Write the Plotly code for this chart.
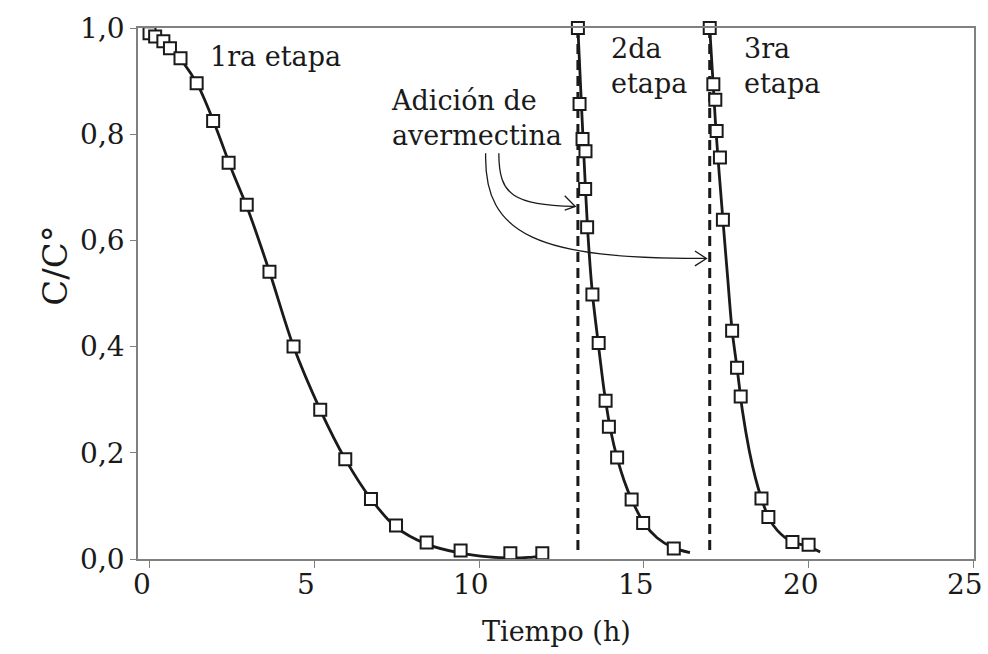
import plotly.graph_objects as go

# Measured concentration ratio C/C° for the three degradation stages
t1 = [0.0, 0.17, 0.42, 0.62, 0.94, 1.43, 1.93, 2.40, 2.95, 3.64, 4.37, 5.18,
      5.94, 6.72, 7.48, 8.41, 9.44, 10.95, 11.92]
c1 = [0.990, 0.984, 0.975, 0.962, 0.943, 0.896, 0.825, 0.746, 0.667, 0.541,
      0.400, 0.281, 0.188, 0.113, 0.063, 0.031, 0.016, 0.011, 0.011]

t2 = [13.0, 13.05, 13.14, 13.23, 13.22, 13.28, 13.44, 13.63, 13.84, 13.94,
      14.19, 14.63, 14.98, 15.91]
c2 = [1.0, 0.857, 0.791, 0.768, 0.697, 0.625, 0.498, 0.407, 0.298, 0.249,
      0.191, 0.112, 0.068, 0.020]

t3 = [17.0, 17.11, 17.17, 17.21, 17.31, 17.40, 17.68, 17.83, 17.94, 18.57,
      18.78, 19.51, 20.0]
c3 = [1.0, 0.894, 0.865, 0.806, 0.756, 0.639, 0.430, 0.360, 0.306, 0.114,
      0.079, 0.032, 0.027]

# Fitted decay curves
t1_fit = [0.0, 0.5, 1.0, 1.5, 2.0, 2.5, 3.0, 3.64, 4.37, 5.18, 5.94, 6.72,
          7.48, 8.41, 9.44, 10.3, 11.0, 11.5, 12.0]
c1_fit = [0.995, 0.972, 0.937, 0.888, 0.815, 0.732, 0.656, 0.541, 0.400,
          0.281, 0.188, 0.113, 0.060, 0.028, 0.011, 0.004, 0.002, 0.003, 0.006]

t2_fit = [13.0, 13.1, 13.2, 13.3, 13.44, 13.6, 13.8, 14.0, 14.2, 14.4, 14.63,
          15.0, 15.4, 15.9, 16.4]
c2_fit = [1.0, 0.865, 0.735, 0.615, 0.50, 0.415, 0.315, 0.240, 0.188, 0.148,
          0.112, 0.068, 0.040, 0.021, 0.012]

t3_fit = [17.0, 17.19, 17.40, 17.54, 17.68, 17.84, 17.99, 18.20, 18.39, 18.57,
          18.78, 19.05, 19.50, 19.99, 20.35]
c3_fit = [1.0, 0.806, 0.639, 0.533, 0.430, 0.355, 0.280, 0.204, 0.152, 0.114,
          0.079, 0.054, 0.032, 0.024, 0.013]

# Times at which avermectin was added
addition_times = [13.0, 17.0]

x_ticks = [0, 5, 10, 15, 20, 25]
x_ticktext = ["0", "5", "10", "15", "20", "25"]
y_ticks = [0.0, 0.2, 0.4, 0.6, 0.8, 1.0]

INK = "#1a1a1a"
AXIS = "#808080"
FONT = "DejaVu Serif"

fig = go.Figure()

for tf, cf in [(t1_fit, c1_fit), (t2_fit, c2_fit), (t3_fit, c3_fit)]:
    fig.add_trace(go.Scatter(
        x=tf, y=cf, mode="lines",
        line=dict(color=INK, width=2.8, shape="spline", smoothing=0.8),
        hoverinfo="skip", showlegend=False, cliponaxis=False))

for ta in addition_times:
    fig.add_trace(go.Scatter(
        x=[ta, ta], y=[0.017, 1.0], mode="lines",
        line=dict(color=INK, width=3, dash="10px,6px"),
        hoverinfo="skip", showlegend=False))

for t, c in [(t1, c1), (t2, c2), (t3, c3)]:
    fig.add_trace(go.Scatter(
        x=t, y=c, mode="markers",
        marker=dict(symbol="square", size=12, color="white",
                    line=dict(color=INK, width=2)),
        showlegend=False, cliponaxis=False))

# Curved arrows from the label to each addition line
arrow_w = 1.3
shapes = [
    dict(type="path", xref="x", yref="y",
         path="M 10.60,0.764 C 10.60,0.683 11.06,0.668 12.90,0.664",
         line=dict(color=INK, width=arrow_w)),
    dict(type="path", xref="x", yref="y",
         path="M 12.60,0.684 L 12.92,0.664 L 12.60,0.657",
         line=dict(color=INK, width=arrow_w)),
    dict(type="path", xref="x", yref="y",
         path="M 10.20,0.764 C 10.14,0.608 11.81,0.565 16.88,0.566",
         line=dict(color=INK, width=arrow_w)),
    dict(type="path", xref="x", yref="y",
         path="M 16.55,0.580 L 16.90,0.566 L 16.55,0.552",
         line=dict(color=INK, width=arrow_w)),
]

L, R, T, B = 138, 12, 27, 95
plot_w = 988 - L - R
plot_h = 654 - T - B

tfont = dict(family=FONT, size=27, color=INK)
annotations = [
    dict(x=1.77, y=0.947, xref="x", yref="y", text="1ra etapa",
         showarrow=False, xanchor="left", yanchor="middle", font=tfont),
    dict(x=13.95, y=0.928, xref="x", yref="y", text="2da<br>etapa",
         showarrow=False, xanchor="left", yanchor="middle", align="left",
         font=tfont),
    dict(x=17.98, y=0.928, xref="x", yref="y", text="3ra<br>etapa",
         showarrow=False, xanchor="left", yanchor="middle", align="left",
         font=tfont),
    dict(x=7.28, y=0.831, xref="x", yref="y", text="Adición de<br>avermectina",
         showarrow=False, xanchor="left", yanchor="middle", align="left",
         font=tfont),
    dict(x=-(L - 32) / plot_w, y=(654 - B - 265) / plot_h,
         xref="paper", yref="paper", text="C/C°",
         showarrow=False, textangle=-90,
         font=dict(family=FONT, size=34, color=INK)),
    dict(x=0.5, y=-(632 - (654 - B)) / plot_h, xref="paper", yref="paper",
         text="Tiempo (h)", showarrow=False, yanchor="middle",
         font=dict(family=FONT, size=27, color=INK)),
]

# x tick labels, set slightly left of their ticks so the last one fits the page
label_y = -(585 - (654 - B)) / plot_h
for xv, lab in zip(x_ticks, x_ticktext):
    annotations.append(dict(
        x=xv, y=label_y, xref="x", yref="paper", text=lab, showarrow=False,
        xanchor="center", yanchor="middle", xshift=-8,
        font=dict(family=FONT, size=28, color=INK)))

fig.update_layout(
    width=988, height=654,
    margin=dict(l=L, r=R, t=T, b=B),
    paper_bgcolor="white", plot_bgcolor="white",
    separators=", ",
    font=dict(family=FONT, color=INK, size=27),
    shapes=shapes, annotations=annotations,
    xaxis=dict(range=[-0.35, 25.02], tickvals=x_ticks, showticklabels=False,
               ticks="outside", ticklen=7, tickcolor=AXIS, showline=True,
               linecolor=AXIS, linewidth=1.5, mirror=True,
               showgrid=False, zeroline=False, automargin=False),
    yaxis=dict(range=[0, 1.0], tickvals=y_ticks, tickformat=".1f",
               ticks="outside", ticklen=6, tickcolor=AXIS,
               showline=True, linecolor=AXIS, linewidth=1.5,
               mirror=True, showgrid=False, zeroline=False,
               tickfont=dict(family=FONT, size=28, color=INK)),
)

fig.write_html("out.html")
